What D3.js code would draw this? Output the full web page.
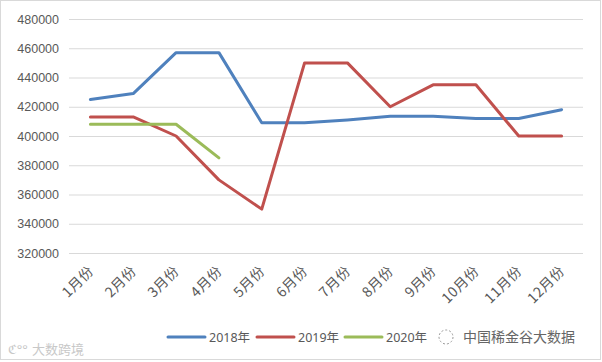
<!DOCTYPE html>
<html>
<head>
<meta charset="utf-8">
<script src="https://cdn.jsdelivr.net/npm/d3@7"></script>
<style>
  body { margin: 0; background: #fff; }
  svg { display: block; font-family: "Noto Sans", "Noto Sans CJK SC", sans-serif; }
</style>
</head>
<body>
<svg id="chart" width="602" height="362"></svg>
<script>
const months = ['1月份', '2月份', '3月份', '4月份', '5月份', '6月份', '7月份', '8月份', '9月份', '10月份', '11月份', '12月份'];
const values2018 = [425000, 429000, 457000, 457000, 409000, 409000, 411000, 413500, 413500, 412000, 412000, 418000];
const values2019 = [413000, 413000, 400000, 370000, 350000, 450000, 450000, 420000, 435000, 435000, 400000, 400000];
const values2020 = [408000, 408000, 408000, 385000];
const yTicks = [320000, 340000, 360000, 380000, 400000, 420000, 440000, 460000, 480000];

const series = [
  { name: '2018年', values: values2018, color: '#4F81BD' },
  { name: '2019年', values: values2019, color: '#C0504D' },
  { name: '2020年', values: values2020, color: '#9BBB59' },
];

const svg = d3.select('#chart');
const W = 602, H = 362;

svg.append('rect')
  .attr('x', 0.5).attr('y', 0.5)
  .attr('width', W - 2).attr('height', H - 3)
  .attr('fill', '#fff').attr('stroke', '#d9d9d9');

const x = d3.scaleBand().domain(months).range([69, 583]);
const y = d3.scaleLinear().domain([320000, 480000]).range([253, 19]);

// grid + y labels
const yAxis = svg.append('g')
  .attr('transform', 'translate(69,0)')
  .call(d3.axisLeft(y).tickValues(yTicks).tickSize(-(583 - 69)).tickPadding(10).tickFormat(d3.format('d')));
yAxis.select('.domain').remove();
yAxis.selectAll('.tick line').attr('stroke', '#d9d9d9');
yAxis.selectAll('.tick text')
  .attr('fill', '#595959')
  .style('font-size', '12.5px');

// x labels
const xAxis = svg.append('g')
  .attr('transform', 'translate(0,253)')
  .call(d3.axisBottom(x).tickSize(0).tickPadding(0));
xAxis.select('.domain').remove();
xAxis.selectAll('.tick text')
  .attr('fill', '#595959')
  .style('font-family', '"Noto Sans CJK SC", sans-serif')
  .style('font-size', '14px')
  .style('letter-spacing', '0.5px')
  .attr('text-anchor', 'end')
  .attr('dy', null)
  .attr('transform', 'translate(4,19) rotate(-45)');

// lines
const line = d3.line()
  .x((d, i) => x(months[i]) + x.bandwidth() / 2)
  .y(d => y(d));

series.forEach(s => {
  svg.append('path')
    .datum(s.values)
    .attr('d', line)
    .attr('fill', 'none')
    .attr('stroke', s.color)
    .attr('stroke-width', 3)
    .attr('stroke-linejoin', 'round')
    .attr('stroke-linecap', 'round');
});

// legend
const legendX = [168, 257, 345];
series.forEach((s, i) => {
  const g = svg.append('g').attr('transform', `translate(${legendX[i]},337)`);
  g.append('line')
    .attr('x1', 0).attr('x2', 37)
    .attr('stroke', s.color).attr('stroke-width', 3).attr('stroke-linecap', 'round');
  g.append('text')
    .attr('x', 41).attr('y', 4.5)
    .attr('fill', '#595959')
    .style('font-size', '12.5px')
    .text(s.name);
});

// watermarks
svg.append('text')
  .attr('x', 463).attr('y', 342)
  .attr('fill', '#666')
  .style('font-family', '"Noto Sans CJK SC", sans-serif')
  .style('font-size', '14px')
  .text('中国稀金谷大数据');
svg.append('circle')
  .attr('cx', 446).attr('cy', 337).attr('r', 7)
  .attr('fill', 'none').attr('stroke', '#999').attr('stroke-dasharray', '2,2');
svg.append('text')
  .attr('x', 32).attr('y', 354)
  .attr('fill', '#c8c8c8')
  .style('font-family', '"Noto Sans CJK SC", sans-serif')
  .style('font-size', '13px')
  .text('大数跨境');
svg.append('text')
  .attr('x', 8).attr('y', 354)
  .attr('fill', '#c8c8c8')
  .style('font-size', '13px')
  .text('ℭ°°');
</script>
</body>
</html>
